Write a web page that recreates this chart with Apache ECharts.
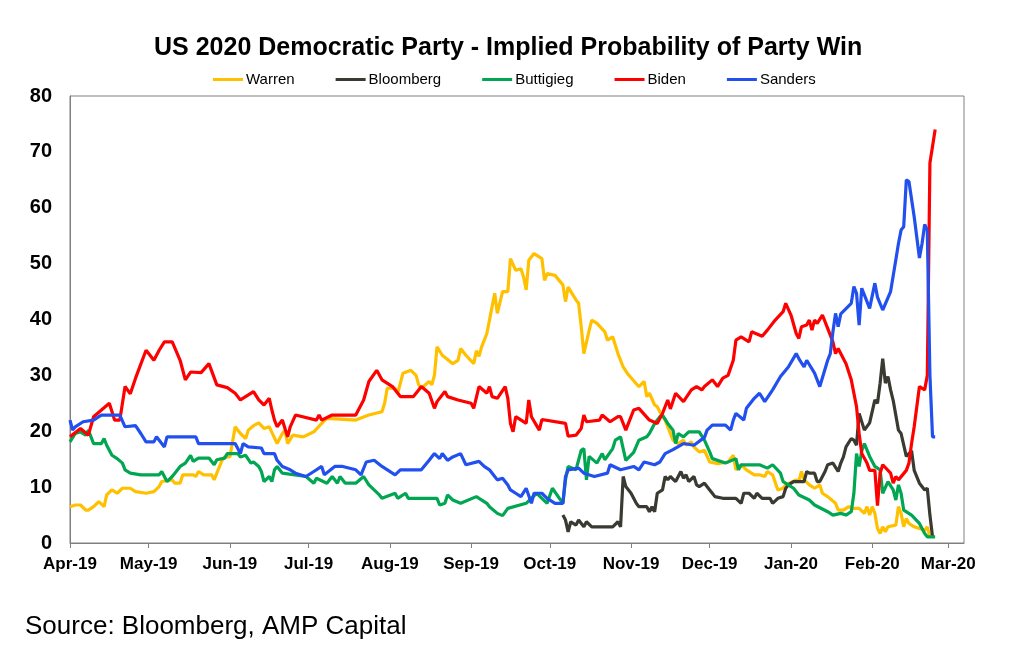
<!DOCTYPE html>
<html>
<head>
<meta charset="utf-8">
<title>US 2020 Democratic Party - Implied Probability of Party Win</title>
<script src="https://cdn.jsdelivr.net/npm/echarts@6/dist/echarts.min.js"></script>
<style>
	html, body { margin: 0; padding: 0; background: #fff; }
	#chart { width: 1024px; height: 652px; }
</style>
</head>
<body>
<div id="chart"></div>
<script>
// values, implied probability in %
var seriesNames = ['Warren', 'Bloomberg', 'Buttigieg', 'Biden', 'Sanders'];
var monthNames = ['Jan', 'Feb', 'Mar', 'Apr', 'May', 'Jun', 'Jul', 'Aug', 'Sep', 'Oct', 'Nov', 'Dec'];

var warren = [
	['2019-04-01',6.5],['2019-04-03',6.8],['2019-04-05',6.8],['2019-04-07',5.9],['2019-04-08',5.9],['2019-04-10',6.5],
	['2019-04-12',7.4],['2019-04-14',6.5],['2019-04-15',8.6],['2019-04-17',9.5],['2019-04-19',8.9],['2019-04-21',9.8],
	['2019-04-24',9.8],['2019-04-26',9.2],['2019-04-30',8.9],['2019-05-03',9.2],['2019-05-05',10.1],['2019-05-06',11],
	['2019-05-10',11.3],['2019-05-11',10.7],['2019-05-13',10.7],['2019-05-14',12.2],['2019-05-18',12.2],['2019-05-19',11.9],
	['2019-05-20',12.8],['2019-05-22',12.2],['2019-05-25',12.2],['2019-05-26',11.3],['2019-05-27',12.5],['2019-05-29',14.8],
	['2019-05-30',15.4],['2019-06-01',15.4],['2019-06-03',20.8],['2019-06-05',19.6],['2019-06-07',18.7],['2019-06-08',20.2],
	['2019-06-10',21],['2019-06-12',21.5],['2019-06-14',20.5],['2019-06-16',20.8],['2019-06-17',19.8],['2019-06-19',17.8],
	['2019-06-21',19.6],['2019-06-22',20.2],['2019-06-23',17.8],['2019-06-25',19.3],['2019-06-29',19],['2019-07-03',19.9],
	['2019-07-06',21.4],['2019-07-08',22.3],['2019-07-19',22],['2019-07-24',22.9],['2019-07-29',23.5],['2019-07-30',25],
	['2019-07-31',27.7],['2019-08-03',27.7],['2019-08-04',26.8],['2019-08-06',30.4],['2019-08-09',30.9],['2019-08-11',30],
	['2019-08-12',28.3],['2019-08-13',27.7],['2019-08-16',28.9],['2019-08-17',28.3],['2019-08-18',30],['2019-08-19',35.1],
	['2019-08-21',33.6],['2019-08-25',32.1],['2019-08-27',32.7],['2019-08-28',34.8],['2019-08-30',33.6],['2019-09-02',32.1],
	['2019-09-03',34.4],['2019-09-04',33.4],['2019-09-05',35.1],['2019-09-07',37.5],['2019-09-09',42.3],['2019-09-10',44.7],
	['2019-09-11',41.1],['2019-09-13',45],['2019-09-15',45],['2019-09-16',50.9],['2019-09-18',48.8],['2019-09-20',49.1],
	['2019-09-21',47.6],['2019-09-22',45.3],['2019-09-23',50.6],['2019-09-25',51.8],['2019-09-28',50.9],['2019-09-29',47],
	['2019-09-30',48.2],['2019-10-03',47.9],['2019-10-06',46.2],['2019-10-07',43.2],['2019-10-08',45.8],['2019-10-11',43.5],
	['2019-10-12',42.9],['2019-10-13',38.7],['2019-10-14',33.9],['2019-10-16',38],['2019-10-17',39.9],['2019-10-19',39.3],
	['2019-10-22',37.8],['2019-10-23',36.3],['2019-10-25',36.9],['2019-10-27',33.9],['2019-10-29',31.5],['2019-10-31',30.1],
	['2019-11-03',28.5],['2019-11-04',28],['2019-11-06',28.9],['2019-11-07',26.2],['2019-11-08',26.8],['2019-11-10',24.7],
	['2019-11-11',24.4],['2019-11-13',22.6],['2019-11-14',22],['2019-11-16',19.6],['2019-11-17',18.4],['2019-11-19',17.8],
	['2019-11-21',18.4],['2019-11-22',17.5],['2019-11-24',18.1],['2019-11-25',17.2],['2019-11-27',16.3],['2019-11-29',16.6],
	['2019-12-01',14.5],['2019-12-04',14.2],['2019-12-08',14.5],['2019-12-10',15.7],['2019-12-11',13.1],['2019-12-13',14],
	['2019-12-15',13.1],['2019-12-18',12.2],['2019-12-20',12.2],['2019-12-22',11.9],['2019-12-23',12.8],['2019-12-25',12.2],
	['2019-12-27',9.5],['2019-12-29',9.8],['2019-12-30',10.4],['2020-01-03',11.3],['2020-01-04',11],['2020-01-05',12.8],
	['2020-01-06',11.3],['2020-01-08',10.4],['2020-01-10',9.8],['2020-01-12',10.4],['2020-01-13',8.9],['2020-01-15',8.3],
	['2020-01-18',7.1],['2020-01-19',5.9],['2020-01-21',5.9],['2020-01-23',6.5],['2020-01-25',6.2],['2020-01-27',6.2],
	['2020-01-29',5.3],['2020-01-30',6.5],['2020-01-31',5],['2020-02-01',6.5],['2020-02-02',5.3],['2020-02-03',2.6],
	['2020-02-04',1.7],['2020-02-05',2.9],['2020-02-06',2],['2020-02-07',2.9],['2020-02-10',3.2],['2020-02-11',6.5],
	['2020-02-12',5.3],['2020-02-13',2.9],['2020-02-14',4.4],['2020-02-15',3.5],['2020-02-17',2.9],['2020-02-19',2.6],
	['2020-02-21',2.3],['2020-02-22',2.9],['2020-02-23',1.1]
];

var bloomberg = [
	['2019-10-06',5],['2019-10-07',4.1],['2019-10-08',2],['2019-10-09',3.8],['2019-10-11',3.2],['2019-10-12',4.1],
	['2019-10-14',2.9],['2019-10-15',3.8],['2019-10-17',2.9],['2019-10-25',2.9],['2019-10-27',3.8],['2019-10-28',2.9],
	['2019-10-29',11.9],['2019-10-30',10.1],['2019-11-01',8.9],['2019-11-03',7.1],['2019-11-04',6.5],['2019-11-07',6.5],
	['2019-11-08',5.6],['2019-11-09',6.5],['2019-11-10',5.6],['2019-11-11',8.9],['2019-11-13',9.5],['2019-11-14',11.9],
	['2019-11-15',11.3],['2019-11-16',11.9],['2019-11-18',11],['2019-11-20',12.8],['2019-11-21',11.6],['2019-11-22',12.2],
	['2019-11-23',11],['2019-11-25',11.9],['2019-11-26',10.4],['2019-11-27',10.1],['2019-11-29',10.7],['2019-12-01',9.5],
	['2019-12-02',8.9],['2019-12-03',8.3],['2019-12-06',8],['2019-12-11',8],['2019-12-13',7.1],['2019-12-14',8.9],
	['2019-12-16',8.9],['2019-12-18',8],['2019-12-19',8.9],['2019-12-21',8],['2019-12-24',8],['2019-12-25',7.1],
	['2019-12-27',8],['2019-12-29',8.3],['2019-12-30',9.8],['2019-12-31',10.4],['2020-01-02',11],['2020-01-06',11],
	['2020-01-07',12.8],['2020-01-08',12.5],['2020-01-10',12.5],['2020-01-11',11],['2020-01-12',11],['2020-01-14',12.8],
	['2020-01-15',14],['2020-01-17',14.3],['2020-01-19',12.8],['2020-01-20',14.3],['2020-01-21',15.4],['2020-01-22',17.2],
	['2020-01-24',18.7],['2020-01-25',18.4],['2020-01-26',17.5],['2020-01-27',23.2],['2020-01-29',20.2],['2020-01-31',21.5],
	['2020-02-02',25.6],['2020-02-03',25],['2020-02-04',28.6],['2020-02-05',33],['2020-02-06',28.6],['2020-02-07',29.8],
	['2020-02-08',27.4],['2020-02-09',25.5],['2020-02-11',20.2],['2020-02-12',19.6],['2020-02-14',15.5],['2020-02-16',16.5],
	['2020-02-17',13],['2020-02-19',10.7],['2020-02-21',9.5],['2020-02-22',9.8],['2020-02-23',5],['2020-02-24',1.1]
];

var buttigieg = [
	['2019-04-01',18.1],['2019-04-03',19.6],['2019-04-05',19.9],['2019-04-07',19.3],['2019-04-08',20.2],['2019-04-10',17.8],
	['2019-04-13',17.8],['2019-04-14',18.7],['2019-04-15',17.5],['2019-04-17',15.7],['2019-04-19',15.1],['2019-04-21',14.3],
	['2019-04-22',13.1],['2019-04-24',12.5],['2019-04-28',12.2],['2019-05-05',12.2],['2019-05-06',12.8],['2019-05-08',11],
	['2019-05-10',11.9],['2019-05-11',12.5],['2019-05-13',13.7],['2019-05-15',14.3],['2019-05-17',15.7],['2019-05-18',14.6],
	['2019-05-20',15.2],['2019-05-24',15.2],['2019-05-26',14],['2019-05-27',14.9],['2019-05-30',15.2],['2019-05-31',16],
	['2019-06-04',16],['2019-06-05',15.4],['2019-06-07',15.7],['2019-06-09',14.3],['2019-06-10',14.5],['2019-06-12',13.7],
	['2019-06-13',12.8],['2019-06-14',11],['2019-06-16',11.9],['2019-06-17',11],['2019-06-18',13.1],['2019-06-19',13.7],
	['2019-06-21',12.5],['2019-06-30',11.9],['2019-07-03',10.7],['2019-07-04',11.6],['2019-07-08',10.7],['2019-07-10',11.9],
	['2019-07-12',10.7],['2019-07-13',11.9],['2019-07-15',10.7],['2019-07-19',10.7],['2019-07-22',11.9],['2019-07-24',10.4],
	['2019-07-26',9.5],['2019-07-28',8.6],['2019-07-29',8],['2019-08-03',8.9],['2019-08-04',8],['2019-08-07',8.9],
	['2019-08-08',8],['2019-08-19',8],['2019-08-20',6.8],['2019-08-22',7.1],['2019-08-23',8.6],['2019-08-25',7.7],
	['2019-08-28',7.1],['2019-09-03',8.3],['2019-09-07',7.1],['2019-09-08',6.5],['2019-09-11',5.3],['2019-09-13',4.9],
	['2019-09-15',6.2],['2019-09-22',7.1],['2019-09-26',8.9],['2019-09-30',7.1],['2019-10-02',9.8],['2019-10-06',7.1],
	['2019-10-07',11.3],['2019-10-08',13.7],['2019-10-11',13.1],['2019-10-13',16.6],['2019-10-14',16.9],['2019-10-15',11.3],
	['2019-10-16',15.5],['2019-10-19',14.3],['2019-10-21',16],['2019-10-22',14.9],['2019-10-25',16.9],['2019-10-26',18.4],
	['2019-10-28',19],['2019-10-30',14.8],['2019-11-02',16.2],['2019-11-04',18.4],['2019-11-07',19],['2019-11-08',19.6],
	['2019-11-10',21.4],['2019-11-12',22.6],['2019-11-13',22.9],['2019-11-15',21.4],['2019-11-17',20.2],['2019-11-18',17.8],
	['2019-11-19',19.6],['2019-11-21',19],['2019-11-23',19.9],['2019-11-27',19.9],['2019-11-29',18.4],['2019-12-01',16.3],
	['2019-12-02',15.1],['2019-12-07',14.3],['2019-12-11',15.1],['2019-12-12',13.1],['2019-12-13',14],['2019-12-20',14],
	['2019-12-23',13.4],['2019-12-25',14],['2019-12-28',12.5],['2019-12-29',11],['2019-12-31',10.4],['2020-01-02',9.8],
	['2020-01-04',8.6],['2020-01-08',7.7],['2020-01-10',6.8],['2020-01-15',5.6],['2020-01-17',5],['2020-01-20',5.3],
	['2020-01-22',5],['2020-01-24',5.6],['2020-01-25',8.9],['2020-01-26',16],['2020-01-27',13.7],['2020-01-28',16.5],
	['2020-01-29',17.8],['2020-01-31',15.5],['2020-02-02',13.7],['2020-02-04',13.1],['2020-02-05',8.9],['2020-02-07',11],
	['2020-02-09',9.5],['2020-02-10',7.7],['2020-02-11',10.4],['2020-02-12',8.9],['2020-02-13',5.9],['2020-02-16',5],
	['2020-02-19',3.5],['2020-02-21',1.7],['2020-02-22',1.1],['2020-02-25',1.1]
];

var biden = [
	['2019-04-01',19],['2019-04-05',20.5],['2019-04-08',19.3],['2019-04-10',22.6],['2019-04-13',23.8],['2019-04-16',25],
	['2019-04-18',22],['2019-04-20',22],['2019-04-22',28],['2019-04-24',26.7],['2019-04-26',29.5],['2019-04-30',34.5],
	['2019-05-01',33.9],['2019-05-03',32.7],['2019-05-05',34.5],['2019-05-07',36],['2019-05-10',36],['2019-05-13',32.7],
	['2019-05-15',29.2],['2019-05-17',30.6],['2019-05-21',30.5],['2019-05-24',32.1],['2019-05-27',28.3],['2019-05-31',27.8],
	['2019-06-03',26.8],['2019-06-05',25.6],['2019-06-10',27.1],['2019-06-12',25.6],['2019-06-14',24.7],['2019-06-16',25.9],
	['2019-06-17',23.8],['2019-06-18',22],['2019-06-19',20.8],['2019-06-21',22],['2019-06-22',20.5],['2019-06-23',19],
	['2019-06-24',20.8],['2019-06-26',22.9],['2019-07-04',22],['2019-07-05',22.9],['2019-07-06',22],['2019-07-10',22.9],
	['2019-07-19',22.9],['2019-07-21',24.7],['2019-07-22',25.6],['2019-07-24',28.9],['2019-07-27',30.9],['2019-07-29',29.2],
	['2019-08-02',28],['2019-08-05',26.2],['2019-08-10',26.2],['2019-08-12',27.4],['2019-08-13',28],['2019-08-16',26.8],
	['2019-08-18',24.1],['2019-08-19',25.3],['2019-08-22',27.1],['2019-08-23',26.2],['2019-08-27',25.6],['2019-09-01',25],
	['2019-09-02',24.1],['2019-09-04',28],['2019-09-07',26.8],['2019-09-08',28],['2019-09-09',26.2],['2019-09-11',25.9],
	['2019-09-14',28],['2019-09-15',25.9],['2019-09-16',21.4],['2019-09-17',19.9],['2019-09-18',22.6],['2019-09-22',21.4],
	['2019-09-23',25.6],['2019-09-24',22.6],['2019-09-27',20.2],['2019-09-28',22.1],['2019-10-07',21.4],['2019-10-08',19.1],
	['2019-10-11',19.3],['2019-10-13',20.5],['2019-10-14',22.9],['2019-10-15',21.7],['2019-10-20',22],['2019-10-21',22.9],
	['2019-10-24',21.7],['2019-10-27',22.6],['2019-10-28',22.6],['2019-10-30',20.2],['2019-10-31',21.4],['2019-11-02',23.8],
	['2019-11-04',24.1],['2019-11-08',22],['2019-11-11',21.4],['2019-11-13',23.2],['2019-11-15',25.6],['2019-11-16',24],
	['2019-11-18',26.8],['2019-11-21',25.3],['2019-11-24',27.4],['2019-11-26',28],['2019-11-28',27.4],['2019-11-29',28],
	['2019-12-02',29.2],['2019-12-04',28],['2019-12-06',29.5],['2019-12-08',30],['2019-12-10',32.7],['2019-12-11',36.3],
	['2019-12-13',36.9],['2019-12-16',36],['2019-12-17',37.8],['2019-12-21',37],['2019-12-23',38.1],['2019-12-26',39.9],
	['2019-12-29',41.4],['2019-12-30',42.9],['2020-01-01',40.8],['2020-01-03',37.5],['2020-01-04',36.6],['2020-01-05',38.7],
	['2020-01-07',39],['2020-01-08',39.9],['2020-01-09',38.1],['2020-01-10',39.9],['2020-01-11',39.3],['2020-01-13',40.8],
	['2020-01-15',38.4],['2020-01-17',36],['2020-01-18',33.9],['2020-01-19',34.8],['2020-01-22',32.1],['2020-01-24',29.2],
	['2020-01-26',24.4],['2020-01-27',19.6],['2020-01-28',16],['2020-01-30',14.3],['2020-01-31',13],['2020-02-02',13],
	['2020-02-03',6.7],['2020-02-04',12.5],['2020-02-05',14],['2020-02-08',12.5],['2020-02-09',10.7],['2020-02-10',11.9],
	['2020-02-11',11.3],['2020-02-14',13],['2020-02-15',14.3],['2020-02-16',17.8],['2020-02-17',20.8],['2020-02-19',28],
	['2020-02-21',27.4],['2020-02-22',30],['2020-02-23',68],['2020-02-24',71],['2020-02-25',74]
];

var sanders = [
	['2019-04-01',22],['2019-04-02',20.2],['2019-04-03',20.8],['2019-04-06',21.7],['2019-04-10',22],['2019-04-12',22.6],
	['2019-04-13',22.9],['2019-04-20',22.9],['2019-04-22',20.8],['2019-04-26',21],['2019-04-28',19.6],['2019-04-30',18.1],
	['2019-05-03',18.1],['2019-05-04',19],['2019-05-07',17.2],['2019-05-08',19],['2019-05-19',19],['2019-05-20',17.8],
	['2019-06-03',17.8],['2019-06-05',16],['2019-06-06',17.8],['2019-06-08',17.2],['2019-06-13',17],['2019-06-14',16],
	['2019-06-18',16],['2019-06-19',14.8],['2019-06-21',13.7],['2019-06-24',13.1],['2019-06-26',12.5],['2019-06-30',11.9],
	['2019-07-03',12.8],['2019-07-06',13.7],['2019-07-07',12.2],['2019-07-11',13.7],['2019-07-14',13.7],['2019-07-19',13.1],
	['2019-07-21',12.2],['2019-07-23',14.5],['2019-07-26',14.8],['2019-07-29',13.7],['2019-08-03',12.2],['2019-08-05',13.1],
	['2019-08-13',13.1],['2019-08-16',14.8],['2019-08-18',16],['2019-08-20',15.1],['2019-08-21',16],['2019-08-23',14.8],
	['2019-08-25',15.4],['2019-08-28',16],['2019-08-30',14],['2019-09-04',14.6],['2019-09-06',13.7],['2019-09-08',13.1],
	['2019-09-10',11.9],['2019-09-11',11.3],['2019-09-13',11.6],['2019-09-15',10.4],['2019-09-16',9.5],['2019-09-18',8.9],
	['2019-09-20',8.3],['2019-09-22',9.8],['2019-09-24',7.1],['2019-09-25',8.9],['2019-09-28',8.9],['2019-09-30',8],
	['2019-10-03',7.1],['2019-10-06',7.1],['2019-10-07',11.9],['2019-10-08',13.1],['2019-10-12',13.4],['2019-10-14',12.5],
	['2019-10-18',11.9],['2019-10-23',12.5],['2019-10-24',14],['2019-10-28',13.1],['2019-11-02',13.7],['2019-11-04',13.1],
	['2019-11-06',14.5],['2019-11-10',14],['2019-11-12',14.5],['2019-11-14',16],['2019-11-17',16.7],['2019-11-21',17.8],
	['2019-11-25',17.5],['2019-11-29',18.9],['2019-11-30',20.2],['2019-12-02',21.1],['2019-12-07',21.1],['2019-12-09',20.2],
	['2019-12-10',22],['2019-12-11',23.2],['2019-12-14',22],['2019-12-15',24.1],['2019-12-18',25.9],['2019-12-20',26.8],
	['2019-12-22',25.3],['2019-12-25',27.4],['2019-12-28',29.8],['2019-12-31',31.5],['2020-01-03',33.9],['2020-01-04',33],
	['2020-01-06',31.5],['2020-01-07',32.7],['2020-01-10',30.4],['2020-01-12',28],['2020-01-15',32.7],['2020-01-16',33.9],
	['2020-01-17',37.8],['2020-01-18',41.1],['2020-01-19',38.7],['2020-01-20',41],['2020-01-24',42.9],['2020-01-25',45.9],
	['2020-01-26',44.7],['2020-01-27',39],['2020-01-28',45.6],['2020-01-31',42],['2020-02-02',46.5],['2020-02-03',44],
	['2020-02-05',41.7],['2020-02-08',45],['2020-02-10',50.7],['2020-02-11',53.6],['2020-02-12',56],['2020-02-13',56.6],
	['2020-02-14',65],['2020-02-15',64.7],['2020-02-17',58.4],['2020-02-19',51],['2020-02-20',53.6],['2020-02-21',57],
	['2020-02-22',56],['2020-02-23',30],['2020-02-24',19],['2020-02-25',19]
];

var seriesData = [warren, bloomberg, buttigieg, biden, sanders];
var lineColors = ['#FFC000', '#3A3A32', '#00A651', '#FF0000', '#2150EE'];

var chart = echarts.init(document.getElementById('chart'), null, { renderer: 'canvas' });
var fontFamily = 'Liberation Sans, Arial, sans-serif';

var series = seriesNames.map(function (name, i) {
	return {
		name: name,
		type: 'line',
		data: seriesData[i],
		showSymbol: false,
		symbol: 'none',
		connectNulls: false,
		lineStyle: { color: lineColors[i], width: 3.2 },
		itemStyle: { color: lineColors[i] },
		emphasis: { disabled: true }
	};
});

var option = {
	animation: false,
	backgroundColor: '#fff',
	title: [{
		text: 'US 2020 Democratic Party - Implied Probability of Party Win',
		left: 149,
		top: 31,
		textStyle: { fontFamily: fontFamily, fontSize: 25, fontWeight: 'bold', color: '#000' }
	}, {
		text: 'Source: Bloomberg, AMP Capital',
		left: 20,
		top: 609,
		textStyle: { fontFamily: fontFamily, fontSize: 26, fontWeight: 'normal', color: '#000' }
	}],
	legend: {
		data: seriesNames,
		top: 67,
		left: 208,
		icon: 'rect',
		itemWidth: 30,
		itemHeight: 3,
		itemGap: 41,
		textStyle: { fontFamily: fontFamily, fontSize: 15, color: '#000', padding: [0, 0, 0, -2] }
	},
	grid: {
		left: 70,
		right: 60,
		top: 96,
		bottom: 109,
		show: true,
		borderColor: '#808080',
		borderWidth: 1,
		backgroundColor: 'transparent'
	},
	xAxis: {
		type: 'time',
		min: '2019-04-01',
		max: '2020-03-07',
		splitNumber: 12,
		minInterval: 28 * 86400000,
		maxInterval: 31 * 86400000,
		axisLine: { show: true, lineStyle: { color: '#808080', width: 1 } },
		axisTick: { show: true, inside: false, length: 5, lineStyle: { color: '#808080' } },
		minorTick: { show: false },
		splitLine: { show: false },
		axisLabel: {
			margin: 13,
			fontFamily: fontFamily,
			fontSize: 17,
			fontWeight: 'bold',
			color: '#000',
			formatter: function (value) {
				var d = new Date(value);
				return monthNames[d.getMonth()] + '-' + String(d.getFullYear()).slice(2);
			}
		}
	},
	yAxis: {
		type: 'value',
		min: 0,
		max: 80,
		interval: 10,
		axisLine: { show: true, lineStyle: { color: '#808080', width: 1 } },
		axisTick: { show: false },
		splitLine: { show: false },
		axisLabel: {
			margin: 18,
			fontFamily: fontFamily,
			fontSize: 20,
			fontWeight: 'bold',
			color: '#000'
		}
	},
	series: series
};

chart.setOption(option);
</script>
</body>
</html>
